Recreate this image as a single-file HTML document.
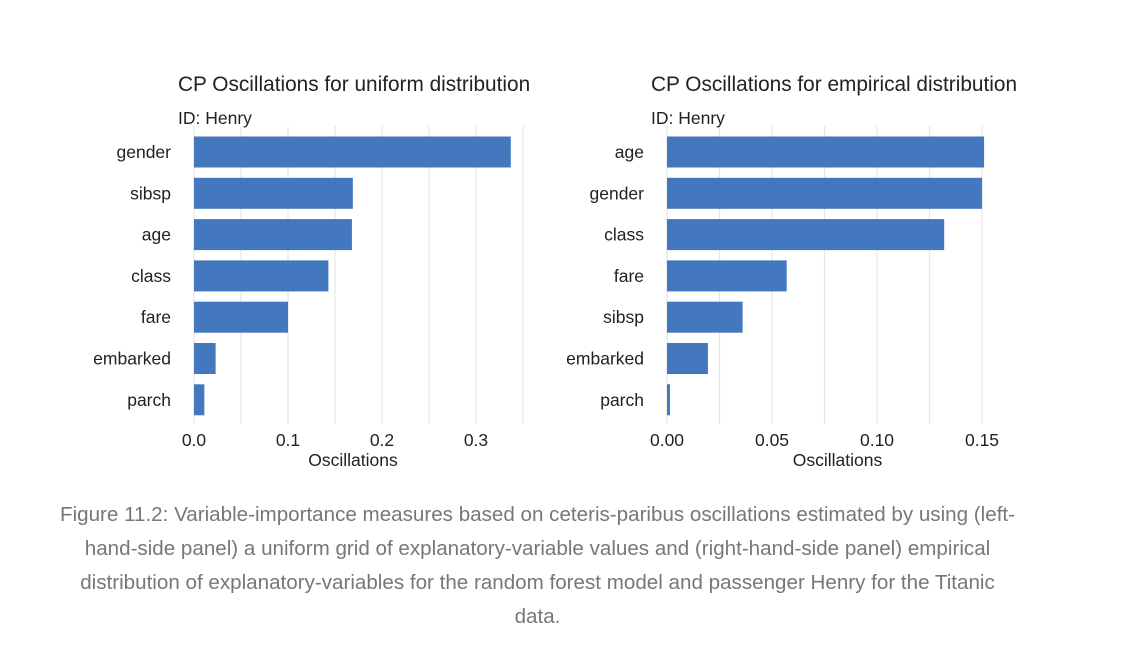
<!DOCTYPE html>
<html><head><meta charset="utf-8"><style>
body{margin:0;background:#fff;font-family:"Liberation Sans",sans-serif;}
#wrap{position:relative;width:1124px;height:655px;overflow:hidden}
.cap{position:absolute;left:0;width:1075px;top:498px;text-align:center;color:#777;font-size:20.6px;line-height:34px;white-space:nowrap}
</style></head><body>
<div id="wrap">
<svg id="chart" width="1124" height="490"></svg>
<div class="cap">Figure 11.2: Variable-importance measures based on ceteris-paribus oscillations estimated by using (left-<br>hand-side panel) a uniform grid of explanatory-variable values and (right-hand-side panel) empirical<br>distribution of explanatory-variables for the random forest model and passenger Henry for the Titanic<br>data.</div>
</div>
<script>
const leftCats=["gender","sibsp","age","class","fare","embarked","parch"];
const leftVals=[0.337,0.169,0.168,0.143,0.100,0.023,0.011];
const leftTicks=[0,0.1,0.2,0.3];
const leftTickLabels=["0.0","0.1","0.2","0.3"];
const rightCats=["age","gender","class","fare","sibsp","embarked","parch"];
const rightVals=[0.151,0.150,0.132,0.057,0.036,0.0195,0.0014];
const rightTicks=[0,0.05,0.10,0.15];
const rightTickLabels=["0.00","0.05","0.10","0.15"];
const NS="http://www.w3.org/2000/svg";
const svg=document.getElementById('chart');
function mk(t,a,p){const e=document.createElementNS(NS,t);for(const k in a)e.setAttribute(k,a[k]);(p||svg).appendChild(e);return e;}
function panel(o){
  const g=mk('g',{});
  
  
  const x=v=>o.x0+v*o.scale;
  const yTop=126,yBot=424,step=41.3,first=152;
  for(let v=0;x(v)<=o.xmax+0.5;v+=o.minor){
    const l=mk('line',{x1:x(v),x2:x(v),y1:yTop,y2:yBot,stroke:'#e6e6e6','stroke-width':1.2},g);
    
    
  }
  o.cats.forEach((c,i)=>{
    const cy=first+i*step;
    const r=mk('rect',{x:x(0),y:cy-15.5,width:Math.max(0,x(o.vals[i])-x(0)),height:31,fill:'#4378bf'},g);
    
    
    const t=mk('text',{x:o.x0-23,y:cy+6,'text-anchor':'end','font-size':17.5,fill:'#222'},g);
    t.textContent=c;
    
    
  });
  o.ticks.forEach((v,i)=>{
    const t=mk('text',{x:x(v),y:446,'text-anchor':'middle','font-size':17.5,fill:'#222'},g);
    t.textContent=o.tl[i];
    
    
  });
  const xt=mk('text',{x:(o.x0+o.xmax)/2-6,y:466,'text-anchor':'middle','font-size':17.5,fill:'#222'},g);
  xt.textContent='Oscillations';
  
  
  const ti=mk('text',{x:o.tx,y:91,'font-size':20.8,fill:'#222'},g);
  ti.textContent=o.title;
  
  
  const st=mk('text',{x:o.tx,y:124,'font-size':17.5,fill:'#222'},g);
  st.textContent='ID: Henry';
  
  
}
panel({name:'left-panel',cats:leftCats,vals:leftVals,ticks:leftTicks,tl:leftTickLabels,x0:194,scale:940,minor:0.05,xmax:524,tx:178,title:'CP Oscillations for uniform distribution'});
panel({name:'right-panel',cats:rightCats,vals:rightVals,ticks:rightTicks,tl:rightTickLabels,x0:667,scale:2100,minor:0.025,xmax:1020,tx:651,title:'CP Oscillations for empirical distribution'});
</script>
</body></html>
